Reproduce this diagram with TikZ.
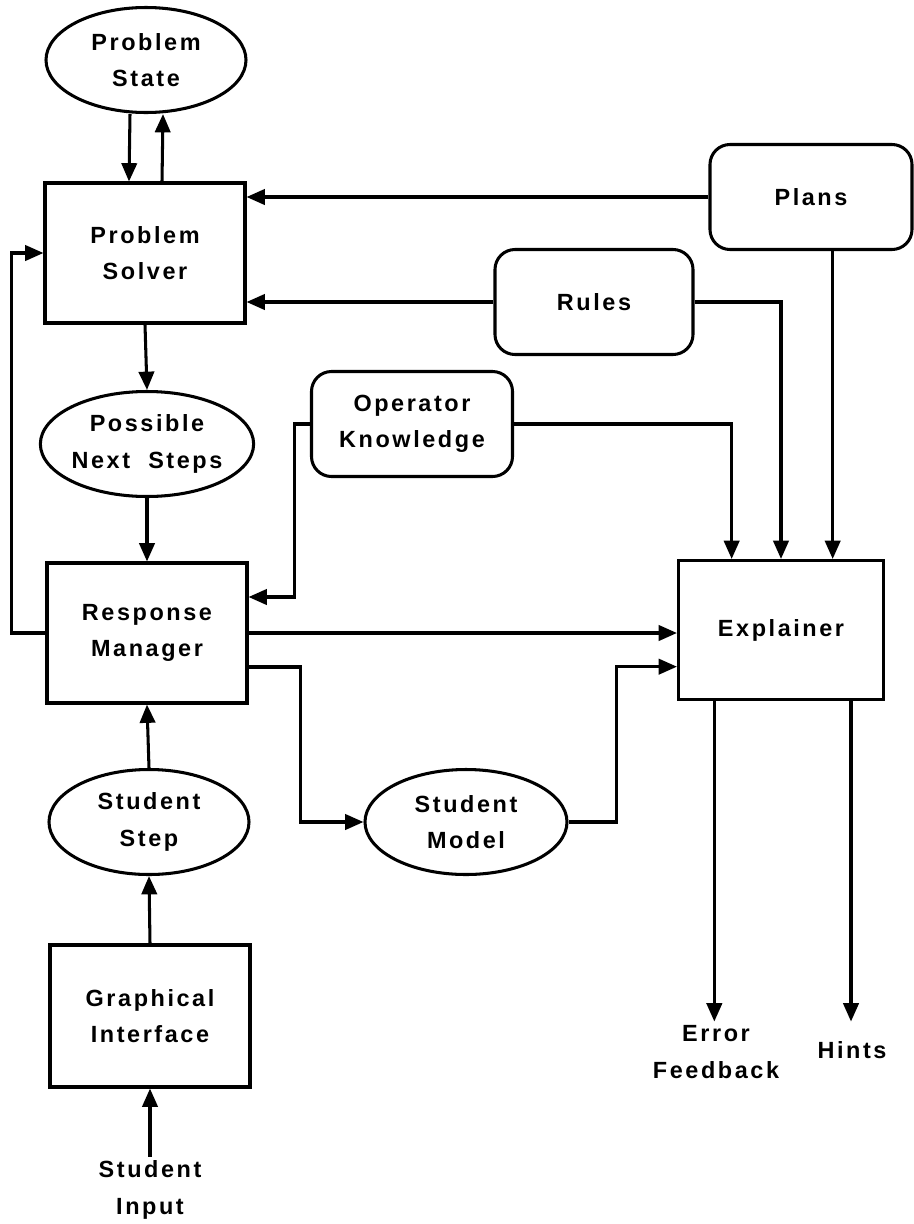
\documentclass[tikz,border=0pt]{standalone}
\usepackage{fontspec}
\newfontfamily\diagfont{Liberation Sans}[LetterSpace=11]
\usetikzlibrary{arrows.meta,positioning,shapes.geometric}

\begin{document}
\begin{tikzpicture}[
      x=0.03cm, y=-0.03cm,
      every node/.style={font=\diagfont\bfseries\fontsize{20}{31}\selectfont, align=center},
      store/.style={draw, ellipse, line width=2.6pt, inner sep=0pt, minimum width=6cm, minimum height=3.15cm},
      module/.style={draw, line width=2.6pt, inner sep=0pt, minimum width=6cm, minimum height=4.2cm},
      base/.style={draw, rounded corners=0.6cm, line width=2.6pt, inner sep=0pt, minimum width=6cm, minimum height=3.15cm},
      arrow/.style={-{Triangle[length=5.5mm,width=4.6mm]}, line width=2.6pt}
  ]
    \useasboundingbox (0,0) rectangle (913,1224);
    \node[store] (state) at (146,60) {Problem\\State};
    \node[module] (solver) at (145,253) {Problem\\Solver};
    \node[base, minimum width=6.06cm] (plans) at (811,197) {Plans};
    \node[base, minimum width=5.94cm] (rules) at (594,302) {Rules};
    \node[base, minimum width=6.03cm] (opknow) at (412,424) {Operator\\Knowledge};
    \node[store] (nextsteps) at (147,444) {Possible\\Next\ \ Steps};
    \node[module] (manager) at (147,633) {Response\\Manager};
    \node[module, minimum width=6.15cm, minimum height=4.17cm] (explainer) at (781,630) {Explainer};
    \node[store] (stustep) at (149,822) {Student\\Step};
    \node[store, minimum width=6.06cm] (stumodel) at (466,822) {Student\\Model};
    \node[module, minimum height=4.26cm] (gui) at (150,1016) {Graphical\\Interface};
    \node (input) at (150,1190) {Student\\Input};
    \node (errfb) at (716,1052) {Error\\Feedback};
    \node (hints) at (852,1050) {Hints};
    \coordinate (opin) at ([xshift=-1.48cm]explainer.north);
    \coordinate (planin) at ([xshift=1.55cm]explainer.north);
    \draw[arrow] ([xshift=-0.48cm]state.south) -- ([xshift=-0.48cm]solver.north);
    \draw[arrow] ([xshift=0.51cm]solver.north) -- ([xshift=0.51cm]state.south);
    \draw[arrow] (plans.west) -- (plans.west -| solver.east);
    \draw[arrow] (rules.west) -- (rules.west -| solver.east);
    \draw[arrow] (rules.east) -| (explainer.north);
    \draw[arrow] (plans.south -| planin) -- (planin);
    \draw[arrow] (opknow.east) -| (opin);
    \draw[arrow] (opknow.west) -- ++(-0.45cm,0) |- ([yshift=1.08cm]manager.east);
    \draw[arrow] (solver.south) -- (nextsteps.north);
    \draw[arrow] (nextsteps.south) -- (manager.north);
    \draw[arrow] (manager.west) -- ++(-1.02cm,0) |- (solver.west);
    \draw[arrow] (manager.east) -- (manager.east -| explainer.west);
    \draw[arrow] ([yshift=-1.02cm]manager.east) -- ++(1.56cm,0) |- (stumodel.west);
    \draw[arrow] (stumodel.east) -- ++(1.44cm,0) |- ([yshift=-1.1cm]explainer.west);
    \draw[arrow] ([xshift=-2.0cm]explainer.south) -- ([xshift=-2.0cm]explainer.south |- errfb.north);
    \draw[arrow] ([xshift=2.1cm]explainer.south) -- ([xshift=2.1cm]explainer.south |- errfb.north);
    \draw[arrow] (stustep.north) -- (manager.south);
    \draw[arrow] (gui.north) -- (stustep.south);
    \draw[arrow] (input.north) -- (gui.south);
  \end{tikzpicture}
\end{document}
